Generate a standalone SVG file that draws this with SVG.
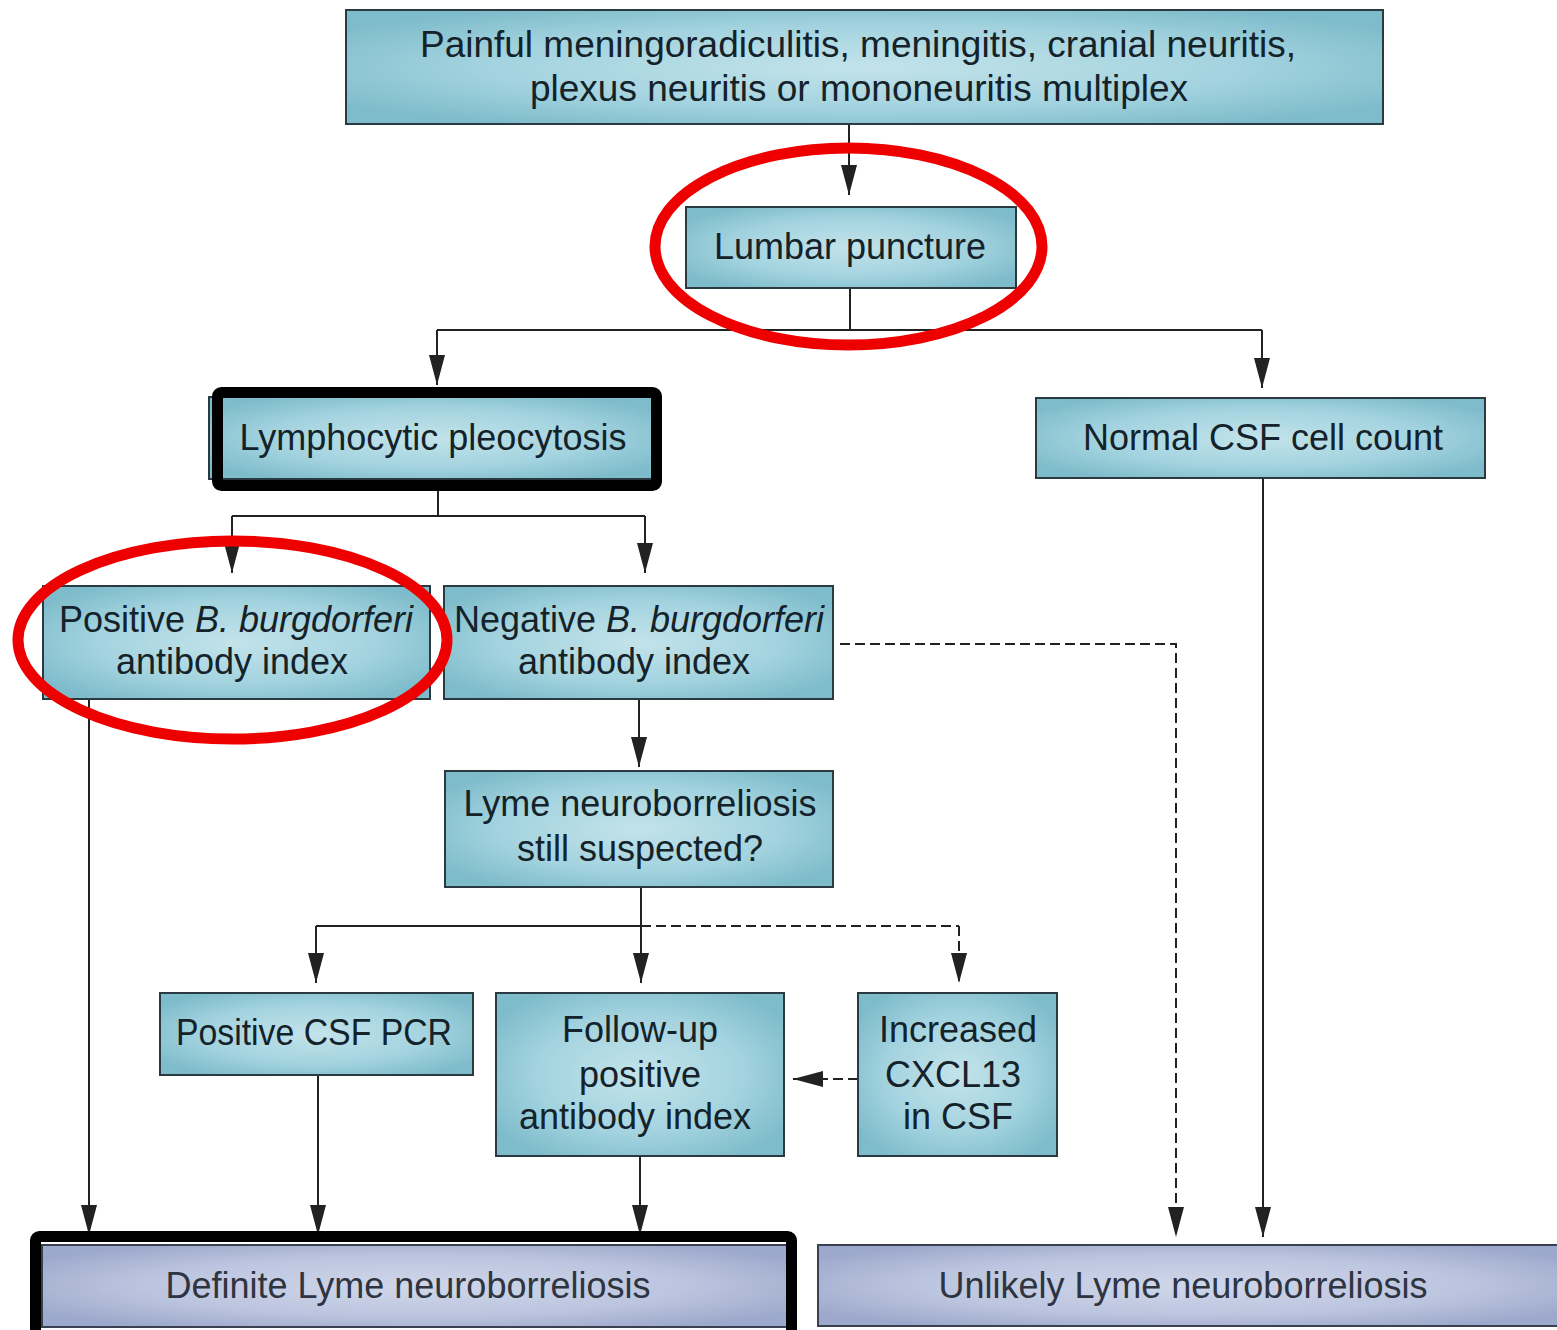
<svg xmlns="http://www.w3.org/2000/svg" width="1557" height="1330" viewBox="0 0 1557 1330">
<defs>
  <radialGradient id="gBlue" cx="0.5" cy="0.5" r="0.6">
    <stop offset="0" stop-color="#c3e3ea"/>
    <stop offset="0.6" stop-color="#a3d3df"/>
    <stop offset="1" stop-color="#7fbccb"/>
  </radialGradient>
  <radialGradient id="gLav" cx="0.5" cy="0.5" r="0.6">
    <stop offset="0" stop-color="#d0d7ea"/>
    <stop offset="0.6" stop-color="#bcc5df"/>
    <stop offset="1" stop-color="#9da9cc"/>
  </radialGradient>
  <marker id="arr" markerUnits="userSpaceOnUse" markerWidth="30" markerHeight="16" refX="30" refY="8" orient="auto">
    <path d="M0,0 L30,8 L0,16 z" fill="#222"/>
  </marker>
</defs>
<style>
  .box { fill: url(#gBlue); stroke: #2b3a40; stroke-width: 2; }
  .lav { fill: url(#gLav); stroke: #3a4050; stroke-width: 2; }
  .t { font-family: "Liberation Sans", Arial, sans-serif; font-size: 36px; fill: #14222a; text-anchor: middle; }
  .tb { font-size: 37px; }
  .tl { font-family: "Liberation Sans", Arial, sans-serif; font-size: 36px; fill: #2e3440; text-anchor: middle; }
  .it { font-style: italic; }
  .c { fill: none; stroke: #222; stroke-width: 2; }
  .d { fill: none; stroke: #222; stroke-width: 2; stroke-dasharray: 10 5; }
  .frame { fill: none; stroke: #000; stroke-width: 11; }
  .red { fill: none; stroke: #ee0000; stroke-width: 11; }
</style>
<rect width="1557" height="1330" fill="#ffffff"/>

<g id="connectors">
  <path class="c" d="M849,124 V195" marker-end="url(#arr)"/>
  <path class="c" d="M850,288 V330"/>
  <path class="c" d="M437,330 H1262"/>
  <path class="c" d="M437,330 V385" marker-end="url(#arr)"/>
  <path class="c" d="M1262,330 V388" marker-end="url(#arr)"/>
  <path class="c" d="M438,491 V516"/>
  <path class="c" d="M232,516 H645"/>
  <path class="c" d="M232,516 V573" marker-end="url(#arr)"/>
  <path class="c" d="M645,516 V573" marker-end="url(#arr)"/>
  <path class="c" d="M89,699 V1235" marker-end="url(#arr)"/>
  <path class="c" d="M639,699 V767" marker-end="url(#arr)"/>
  <path class="d" d="M840,644 H1176 V1237" marker-end="url(#arr)"/>
  <path class="c" d="M1263,478 V1237" marker-end="url(#arr)"/>
  <path class="c" d="M641,887 V926"/>
  <path class="c" d="M316,926 H641"/>
  <path class="d" d="M641,926 H959"/>
  <path class="c" d="M316,926 V983" marker-end="url(#arr)"/>
  <path class="c" d="M641,926 V983" marker-end="url(#arr)"/>
  <path class="d" d="M959,926 V983" marker-end="url(#arr)"/>
  <path class="c" d="M318,1075 V1235" marker-end="url(#arr)"/>
  <path class="c" d="M640,1156 V1235" marker-end="url(#arr)"/>
  <path class="d" d="M858,1079 H793" marker-end="url(#arr)"/>
</g>

<g id="n-top">
  <rect class="box" x="346" y="10" width="1037" height="114"/>
  <text class="t tb" x="858" y="57">Painful meningoradiculitis, meningitis, cranial neuritis,</text>
  <text class="t tb" x="859" y="101">plexus neuritis or mononeuritis multiplex</text>
</g>
<g id="n-lumbar">
  <rect class="box" x="686" y="207" width="330" height="81"/>
  <text class="t" x="850" y="259">Lumbar puncture</text>
</g>
<g id="n-lymph">
  <rect class="box" x="209" y="397" width="444" height="82"/>
  <text class="t" x="433" y="450">Lymphocytic pleocytosis</text>
</g>
<g id="n-normal">
  <rect class="box" x="1036" y="398" width="449" height="80"/>
  <text class="t" x="1263" y="450">Normal CSF cell count</text>
</g>
<g id="n-positive">
  <rect class="box" x="43" y="586" width="387" height="113"/>
  <text class="t" x="236" y="632">Positive <tspan class="it">B. burgdorferi</tspan></text>
  <text class="t" x="232" y="674">antibody index</text>
</g>
<g id="n-negative">
  <rect class="box" x="444" y="586" width="389" height="113"/>
  <text class="t" x="639" y="632">Negative <tspan class="it">B. burgdorferi</tspan></text>
  <text class="t" x="634" y="674">antibody index</text>
</g>
<g id="n-suspected">
  <rect class="box" x="445" y="771" width="388" height="116"/>
  <text class="t" x="640" y="816">Lyme neuroborreliosis</text>
  <text class="t" x="640" y="861">still suspected?</text>
</g>
<g id="n-pcr">
  <rect class="box" x="160" y="993" width="313" height="82"/>
  <text class="t" x="314" y="1045" textLength="276" lengthAdjust="spacingAndGlyphs">Positive CSF PCR</text>
</g>
<g id="n-followup">
  <rect class="box" x="496" y="993" width="288" height="163"/>
  <text class="t" x="640" y="1042">Follow-up</text>
  <text class="t" x="640" y="1087">positive</text>
  <text class="t" x="635" y="1129">antibody index</text>
</g>
<g id="n-cxcl13">
  <rect class="box" x="858" y="993" width="199" height="163"/>
  <text class="t" x="958" y="1042">Increased</text>
  <text class="t" x="953" y="1087">CXCL13</text>
  <text class="t" x="958" y="1129">in CSF</text>
</g>
<g id="n-definite">
  <rect class="lav" x="42" y="1245" width="745" height="82"/>
  <text class="tl" x="408" y="1298">Definite Lyme neuroborreliosis</text>
</g>
<g id="n-unlikely">
  <rect class="lav" x="818" y="1245" width="750" height="81"/>
  <text class="tl" x="1183" y="1298">Unlikely Lyme neuroborreliosis</text>
</g>

<g id="annotations">
  <rect class="frame" x="217.5" y="392.5" width="439" height="93" rx="4"/>
  <rect class="frame" x="35.5" y="1236.5" width="756" height="100" rx="4"/>
  <ellipse class="red" cx="848.5" cy="246.5" rx="193.5" ry="98.5"/>
  <ellipse class="red" cx="232.5" cy="640" rx="214.5" ry="99"/>
</g>
</svg>
